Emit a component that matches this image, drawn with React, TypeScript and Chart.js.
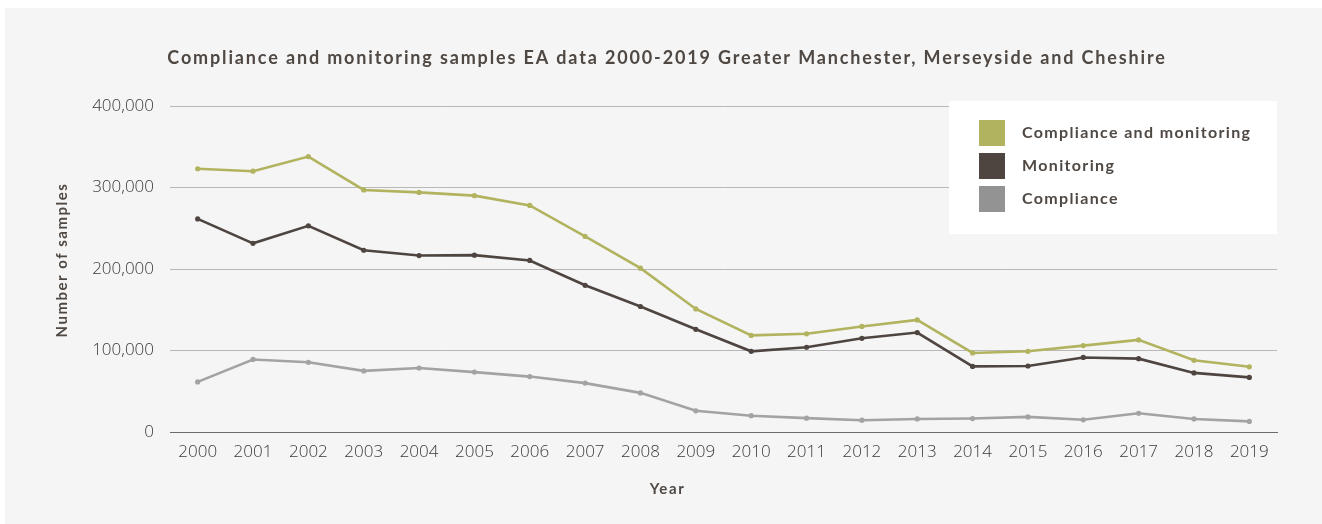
import React, { useEffect, useRef } from 'react';
import { Chart, registerables } from 'chart.js';

Chart.register(...registerables);

const years = ['2000', '2001', '2002', '2003', '2004', '2005', '2006', '2007', '2008', '2009', '2010', '2011', '2012', '2013', '2014', '2015', '2016', '2017', '2018', '2019'];
const complianceAndMonitoring = [323000, 320000, 338000, 297000, 294000, 290000, 278000, 240000, 201000, 151000, 118500, 120500, 129500, 137500, 97000, 99000, 106000, 113000, 88000, 80000];
const monitoring = [261500, 231500, 253000, 223000, 216500, 217000, 210500, 180000, 154000, 126000, 99000, 104000, 115000, 122000, 80500, 81000, 91500, 90000, 72500, 67000];
const compliance = [61500, 89000, 85500, 75000, 78500, 73500, 68000, 60000, 48000, 26000, 20000, 17000, 14500, 16000, 16500, 18500, 15000, 23000, 16000, 13000];
const seriesLabels = ['Compliance and monitoring', 'Monitoring', 'Compliance'];
const yTickValues = [0, 100000, 200000, 300000, 400000];

const titleText = 'Compliance and monitoring samples EA data 2000-2019 Greater Manchester, Merseyside and Cheshire';
const xTitle = 'Year';
const yTitle = 'Number of samples';

const lineColors = ['#b1b35e', '#4e4540', '#a3a3a3'];
const legendColors = ['#b1b35e', '#4e4540', '#939393'];
const TEXT = '#4f4843';
const BOLD = 'Lato';

function patch(chart: any, obj: any, key: string, spacing: string, dx: number, dy: number) {
  if (!obj || obj['__patched_' + key]) return;
  const orig = obj[key].bind(obj);
  obj[key] = (...args: any[]) => {
    const ctx = chart.ctx;
    ctx.save();
    ctx.letterSpacing = spacing;
    ctx.translate(dx, dy);
    orig(...args);
    ctx.restore();
  };
  obj['__patched_' + key] = true;
}

const spacingPlugin = {
  id: 'spacingPlugin',
  beforeDraw(chart: any) {
    patch(chart, chart.titleBlock, 'draw', '1.85px', 26, 0);
    patch(chart, chart.scales.x, 'drawTitle', '1.6px', -56, 0);
    patch(chart, chart.scales.y, 'drawTitle', '1.5px', 0, -9);
  },
};

const legendPlugin = {
  id: 'boxLegend',
  afterDraw(chart: any) {
    const ctx = chart.ctx;
    const area = chart.chartArea;
    const boxX = area.right - 328;
    const boxY = area.top - 5;
    ctx.save();
    ctx.fillStyle = '#ffffff';
    ctx.fillRect(boxX, boxY, 328, 133);
    ctx.letterSpacing = '1.35px';
    ctx.font = `bold 16px ${BOLD}`;
    ctx.textBaseline = 'middle';
    ctx.textAlign = 'left';
    chart.data.datasets.forEach((ds: any, i: number) => {
      const y = boxY + 19 + i * 33;
      ctx.fillStyle = legendColors[i];
      ctx.fillRect(boxX + 30, y, 26, 26);
      ctx.fillStyle = TEXT;
      ctx.fillText(ds.label, boxX + 73, y + 13);
    });
    ctx.restore();
  },
};

export default function App() {
  const ref = useRef<HTMLCanvasElement>(null);
  useEffect(() => {
    if (!ref.current) return;
    const data = [complianceAndMonitoring, monitoring, compliance];
    const chart = new Chart(ref.current, {
      type: 'line',
      data: {
        labels: years,
        datasets: data.map((d, i) => ({
          label: seriesLabels[i],
          data: d,
          borderColor: lineColors[i],
          backgroundColor: lineColors[i],
          pointBackgroundColor: lineColors[i],
          pointBorderColor: lineColors[i],
          borderWidth: 2.6,
          pointRadius: 2.6,
          pointBorderWidth: 0,
          tension: 0,
          fill: false,
        })),
      },
      options: {
        animation: false,
        responsive: false,
        devicePixelRatio: 1,
        layout: { padding: { left: 0, right: 45, top: 0, bottom: 0 } },
        plugins: {
          legend: { display: false },
          tooltip: { enabled: false },
          title: {
            display: true,
            text: titleText,
            color: TEXT,
            font: { family: BOLD, size: 18, weight: 'bold', lineHeight: 1.2 },
            padding: { top: 39.6, bottom: 36.8 },
          },
        },
        scales: {
          x: {
            offset: true,
            grid: { display: false, drawTicks: false },
            border: { display: true, color: '#6a6a6a', width: 1 },
            ticks: {
              color: '#3a3a3a',
              font: { family: 'Open Sans', size: 17, weight: '300' },
              padding: 10,
              maxRotation: 0,
              autoSkip: false,
            },
            title: {
              display: true,
              text: xTitle,
              color: TEXT,
              font: { family: BOLD, size: 15, weight: 'bold', lineHeight: 1.2 },
              padding: { top: 0, bottom: 26 },
            },
            afterFit: (s: any) => { s.height = 92; },
          },
          y: {
            min: 0,
            max: 400000,
            afterBuildTicks: (s: any) => { s.ticks = yTickValues.map((v) => ({ value: v })); },
            grid: {
              drawTicks: false,
              color: (c: any) => (c.tick && c.tick.value === 0 ? '#6a6a6a' : '#b8b8b8'),
              lineWidth: 1,
            },
            border: { display: false },
            ticks: {
              color: '#3a3a3a',
              font: { family: 'Open Sans', size: 17, weight: '300' },
              padding: 16,
              callback: (v: any) => Number(v).toLocaleString('en-US'),
            },
            title: {
              display: true,
              text: yTitle,
              color: TEXT,
              font: { family: BOLD, size: 15, weight: 'bold', lineHeight: 1.2 },
              padding: { top: 48, bottom: 0 },
            },
            afterFit: (s: any) => { s.width = 165; },
          },
        },
      },
      plugins: [spacingPlugin, legendPlugin],
    });
    return () => chart.destroy();
  }, []);
  return (
    <div style={{ position: 'fixed', left: 5, top: 8, width: 1317, height: 516, background: '#f5f5f5' }}>
      <canvas ref={ref} width={1317} height={516} style={{ display: 'block' }} />
    </div>
  );
}
